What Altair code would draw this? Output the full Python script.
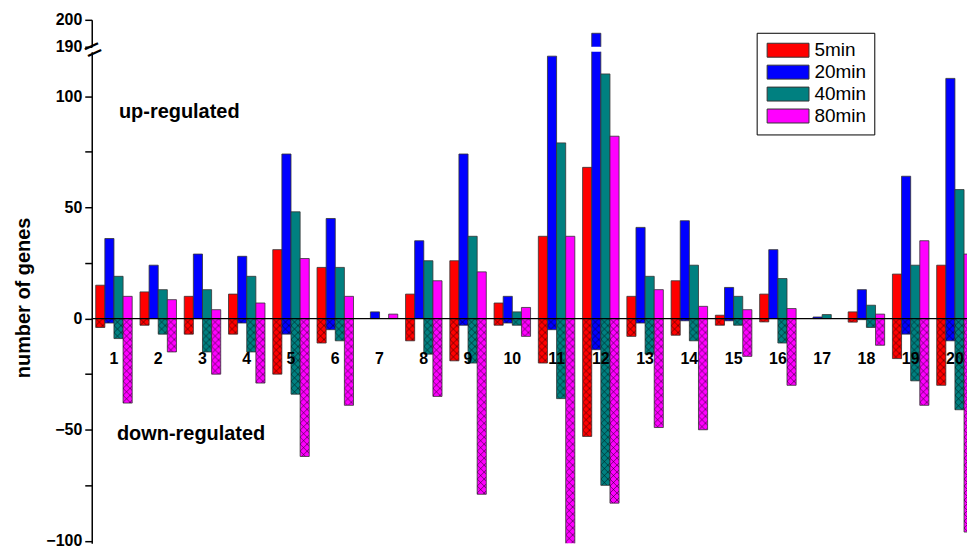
import altair as alt
import pandas as pd
from urllib.parse import quote

categories = [str(i) for i in range(1, 21)]
series = ["5min", "20min", "40min", "80min"]
colors = ["#FF0000", "#0000FF", "#008080", "#FF00FF"]

# up-regulated gene counts per time point
up_5 = [15, 12, 10, 11, 31, 23, 0, 11, 26, 7, 37, 68, 10, 17, 1.5, 11, 0, 3, 20, 24]
up_20 = [36, 24, 29, 28, 74, 45, 3, 35, 74, 10, 118, 195, 41, 44, 14, 31, 0.7, 13, 64, 108]
up_40 = [19, 13, 13, 19, 48, 23, 0, 26, 37, 3, 79, 110, 19, 24, 10, 18, 1.8, 6, 24, 58]
up_80 = [10, 8.5, 4, 7, 27, 10, 2, 17, 21, 5, 37, 82, 13, 5.5, 4, 4.5, 0, 2, 35, 29]

# down-regulated gene counts per time point
down_5 = [-4, -3, -7, -7, -25, -11, 0, -10, -19, -3, -20, -53, -8, -7.5, -3, -1.5, 0, -1.6, -18, -30]
down_20 = [-2, 0, 0, -2, -7, -5, 0, 0, -3, -2, -5, -14, -2, -1, -1, 0, 0, -0.5, -7, -10]
down_40 = [-9, -7, -15, -15, -34, -10, 0, -16, -20, -3, -36, -75, -16, -10, -3, -11, 0, -4, -28, -41]
down_80 = [-38, -15, -25, -29, -62, -39, 0, -35, -79, -8, -108, -83, -49, -50, -17, -30, 0, -12, -39, -96]

up = dict(zip(series, [up_5, up_20, up_40, up_80]))
down = dict(zip(series, [down_5, down_20, down_40, down_80]))

rows = []
for s in series:
    for c, u, d in zip(categories, up[s], down[s]):
        if u:
            rows.append({"cat": c, "series": s, "val": u, "dir": "up"})
        if d:
            rows.append({"cat": c, "series": s, "val": d, "dir": "down"})
df = pd.DataFrame(rows)
cats_df = pd.DataFrame({"cat": categories})
one = pd.DataFrame({"k": [0]})

FONT = "Liberation Sans"
W = 878
STEP = 44.4

hatch_svg = (
    "<svg xmlns='http://www.w3.org/2000/svg' width='100%' height='100%'>"
    "<defs><pattern id='h' width='7' height='7' patternUnits='userSpaceOnUse'>"
    "<path d='M0,0L7,7M7,0L0,7' stroke='#000' stroke-opacity='0.55' stroke-width='0.9'/>"
    "</pattern></defs><rect width='100%' height='100%' fill='url(#h)'/></svg>"
)
hatch_url = "data:image/svg+xml;charset=utf-8," + quote(hatch_svg)

x_enc = alt.X(
    "cat:O", sort=categories, axis=None,
    scale=alt.Scale(domain=categories, range=[4, 4 + STEP * 19.824],
                    paddingInner=0.176, paddingOuter=0),
)
xo_enc = alt.XOffset(
    "series:N", sort=series,
    scale=alt.Scale(domain=series, paddingInner=0, paddingOuter=0),
)
color_enc = alt.Color(
    "series:N", sort=series,
    scale=alt.Scale(domain=series, range=colors),
    legend=alt.Legend(
        orient="none", legendX=667, legendY=13, title=None,
        symbolType="M-3,-1H3V1H-3Z", symbolSize=196, symbolOffset=14,
        symbolStrokeColor="#333333", symbolStrokeWidth=1, symbolOpacity=1,
        labelFont=FONT, labelFontSize=19, labelColor="black", labelOffset=17,
        padding=8, rowPadding=2, strokeColor="black", fillColor="white",
    ),
)

axis_common = dict(
    domainColor="black", domainWidth=1.5, tickColor="black", tickWidth=1.5, tickSize=7,
    labelFont=FONT, labelFontSize=16, labelFontWeight="bold", labelColor="black",
    labelPadding=3, grid=False,
)

y_low = alt.Y(
    "val:Q",
    scale=alt.Scale(domain=[-101, 120], nice=False, zero=False),
    axis=alt.Axis(
        values=[-100, -75, -50, -25, 0, 25, 50, 75, 100],
        labelExpr="abs(datum.value) % 50 == 0 ? datum.label : ''",
        title="number of genes", titleFont=FONT, titleFontSize=20, titleFontWeight="bold",
        titleColor="black", titlePadding=12, **axis_common,
    ),
)
y_up = alt.Y(
    "val:Q",
    scale=alt.Scale(domain=[190, 200], nice=False, zero=False),
    axis=alt.Axis(
        values=[190, 195, 200],
        labelExpr="datum.value == 195 ? '' : datum.label",
        title=None, **axis_common,
    ),
)

bar_style = dict(stroke="#333333", strokeWidth=0.8, clip=True)
no_frame = alt.ViewBackground(stroke="transparent", strokeOpacity=0, strokeWidth=0)

# ---- upper (broken) segment ----
up_bars = alt.Chart(df).transform_filter("datum.dir == 'up'").mark_bar(**bar_style).encode(
    x=x_enc, xOffset=xo_enc, y=y_up, y2=alt.datum(0), color=color_enc
)
brk = alt.Chart(one).mark_text(
    text="=", angle=335, fontSize=30, font=FONT, color="black", dy=4
).encode(x=alt.value(0), y=alt.datum(190))
upper = alt.layer(up_bars, brk).properties(width=W, height=27, view=no_frame)

# ---- lower segment ----
bars = alt.Chart(df).mark_bar(**bar_style).encode(
    x=x_enc, xOffset=xo_enc, y=y_low, y2=alt.datum(0), color=color_enc
)
hatch = alt.Chart(df).transform_filter("datum.dir == 'down'").mark_image(
    aspect=False, clip=True
).encode(x=x_enc, xOffset=xo_enc, y="val:Q", y2=alt.datum(0), url=alt.value(hatch_url))
zero = alt.Chart(one).mark_rule(color="black", strokeWidth=1.3).encode(y=alt.datum(0))
cat_labels = alt.Chart(cats_df).mark_text(
    font=FONT, fontSize=16, fontWeight="bold", color="black", baseline="middle"
).encode(x=alt.X("cat:O", sort=categories, axis=None), y=alt.datum(-18.2), text="cat:N")
note_up = alt.Chart(one).mark_text(
    text="up-regulated", font=FONT, fontSize=20, fontWeight="bold", color="black",
    align="left", baseline="alphabetic", dx=5
).encode(x=alt.X(datum="1", type="ordinal", axis=None), y=alt.datum(90.3))
note_down = alt.Chart(one).mark_text(
    text="down-regulated", font=FONT, fontSize=20, fontWeight="bold", color="black",
    align="left", baseline="alphabetic", dx=3
).encode(x=alt.X(datum="1", type="ordinal", axis=None), y=alt.datum(-54.8))

lower = alt.layer(bars, hatch, zero, cat_labels, note_up, note_down).properties(
    width=W, height=493, view=no_frame
)

chart = (
    alt.vconcat(upper, lower, spacing=5, bounds="flush")
    .resolve_scale(y="independent", x="shared", color="shared")
    .properties(padding={"left": 5, "top": 3, "right": 0, "bottom": 0})
    .configure_view(stroke="transparent", strokeOpacity=0, strokeWidth=0)
    .configure_legend(strokeWidth=1.5)
    .configure(font=FONT)
)

chart.save("out.html", embed_options={"renderer": "svg", "actions": False})
